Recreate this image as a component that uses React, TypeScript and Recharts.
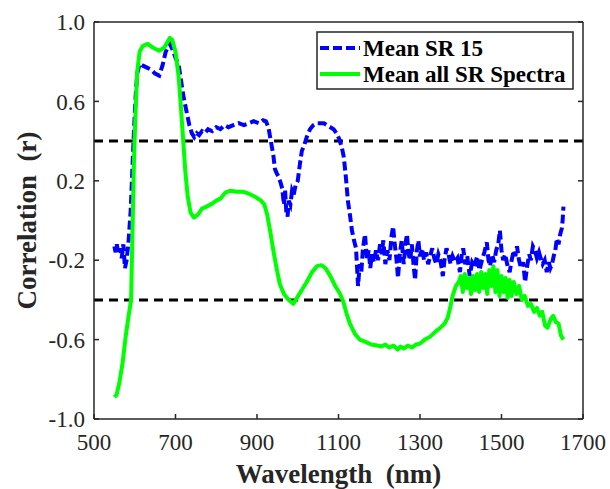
import React from 'react';
import { LineChart, Line, XAxis, YAxis, ReferenceLine } from 'recharts';

const xTicks = [500, 700, 900, 1100, 1300, 1500, 1700];
const yTicks = [-1, -0.6, -0.2, 0.2, 0.6, 1];
const thresholds = [0.4, -0.4];
const seriesNames = ['Mean SR 15', 'Mean all SR Spectra'];

const blueWl = [
  550, 553, 556, 560, 564, 568, 572, 576, 580, 585,
  590, 594, 598, 602, 606, 612, 620, 630, 640, 650,
  660, 668, 676, 686, 693, 700, 708, 714, 720, 727,
  734, 740, 746, 752, 758, 765, 772, 780, 790, 800,
  810, 820, 830, 842, 855, 868, 880, 892, 905, 915,
  922, 928, 934, 940, 944, 948, 953, 958, 962, 966,
  969, 972, 975, 978, 982, 986, 990, 995, 1000, 1005,
  1010, 1016, 1022, 1030, 1038, 1046, 1055, 1064, 1072, 1080,
  1088, 1095, 1102, 1108, 1113, 1118, 1123, 1128, 1133, 1138,
  1143, 1148, 1152, 1156, 1160, 1165, 1170, 1174, 1178, 1182,
  1187, 1192, 1197, 1202, 1206, 1210, 1215, 1220, 1225, 1230,
  1234, 1238, 1242, 1246, 1250, 1255, 1260, 1264, 1268, 1272,
  1276, 1280, 1284, 1288, 1292, 1296, 1300, 1305, 1310, 1315,
  1320, 1325, 1330, 1335, 1340, 1345, 1350, 1356, 1360, 1365,
  1370, 1375, 1380, 1386, 1392, 1398, 1402, 1406, 1411, 1416,
  1422, 1428, 1434, 1440, 1446, 1452, 1458, 1464, 1468, 1472,
  1477, 1482, 1487, 1492, 1496, 1500, 1504, 1509, 1514, 1520,
  1525, 1530, 1534, 1538, 1543, 1548, 1553, 1558, 1563, 1568,
  1572, 1577, 1582, 1587, 1592, 1596, 1601, 1606, 1611, 1616,
  1620, 1624, 1628, 1632, 1636, 1640, 1644, 1648, 1650, 1652,
];
const blueR = [
  -0.13, -0.16, -0.12, -0.17, -0.14, -0.19, -0.12, -0.24, -0.2, -0.1,
  0.05, 0.25, 0.45, 0.62, 0.74, 0.79, 0.78, 0.77, 0.76, 0.74,
  0.73, 0.78, 0.85, 0.89, 0.86, 0.82, 0.78, 0.7, 0.62, 0.55,
  0.48, 0.44, 0.42, 0.44, 0.43, 0.45, 0.44, 0.46, 0.45, 0.47,
  0.46, 0.48, 0.47, 0.48, 0.49, 0.48, 0.49, 0.5, 0.49, 0.505,
  0.5, 0.47, 0.4, 0.33, 0.26, 0.24, 0.22, 0.19, 0.16, 0.08,
  0.15, 0.04, 0.02, 0.1, 0.08, 0.15, 0.13, 0.18, 0.2, 0.28,
  0.35, 0.38, 0.42, 0.46, 0.48, 0.49, 0.49, 0.49, 0.48, 0.47,
  0.46, 0.44, 0.41, 0.37, 0.32, 0.22, 0.1, 0.03, -0.05, -0.1,
  -0.14, -0.33, -0.22, -0.26, -0.14, -0.07, -0.2, -0.15, -0.24, -0.17,
  -0.21, -0.15, -0.2, -0.12, -0.17, -0.1, -0.22, -0.15, -0.2, -0.08,
  -0.03, -0.12, -0.19, -0.29, -0.18, -0.1, -0.22, -0.12, -0.07, -0.17,
  -0.2, -0.12, -0.22, -0.3, -0.16, -0.1, -0.18, -0.14, -0.2, -0.16,
  -0.22, -0.18, -0.14, -0.19, -0.22, -0.17, -0.2, -0.28, -0.2, -0.14,
  -0.17, -0.22, -0.18, -0.21, -0.19, -0.26, -0.18, -0.14, -0.22, -0.18,
  -0.28, -0.21, -0.23, -0.18, -0.25, -0.2, -0.16, -0.11, -0.2, -0.23,
  -0.17, -0.21, -0.15, -0.12, -0.05, -0.15, -0.2, -0.17, -0.22, -0.26,
  -0.2, -0.15, -0.18, -0.13, -0.2, -0.24, -0.21, -0.31, -0.23, -0.17,
  -0.2, -0.13, -0.15, -0.19, -0.16, -0.19, -0.22, -0.2, -0.26, -0.21,
  -0.24, -0.22, -0.18, -0.15, -0.09, -0.12, -0.07, -0.04, 0.0, 0.07,
];

const greenWl = [
  550, 555, 562, 570, 578, 585, 591, 595, 598, 602,
  606, 612, 620, 632, 645, 660, 672, 686, 692, 700,
  708, 714, 719, 724, 730, 737, 745, 755, 765, 776,
  790, 800, 810, 822, 835, 850, 865, 880, 895, 910,
  918, 925, 932, 940, 948, 956, 966, 978, 989, 998,
  1010, 1022, 1035, 1047, 1058, 1068, 1080, 1092, 1104, 1112,
  1120, 1128, 1140, 1152, 1165, 1180, 1195, 1205, 1215, 1225,
  1235, 1245, 1252, 1260, 1270, 1280, 1290, 1300, 1312, 1325,
  1338, 1350, 1360, 1368, 1374, 1380, 1388, 1395, 1400, 1405,
  1410, 1415, 1420, 1425, 1430, 1435, 1440, 1445, 1450, 1455,
  1460, 1465, 1470, 1475, 1480, 1485, 1490, 1495, 1500, 1505,
  1510, 1515, 1520, 1525, 1530, 1537, 1543, 1550, 1557, 1565,
  1572, 1580, 1587, 1594, 1600, 1607, 1613, 1620, 1627, 1633,
  1640, 1646, 1652,
];
const greenR = [
  -0.89, -0.88, -0.82, -0.72, -0.58, -0.48, -0.4, 0.0, 0.3, 0.55,
  0.75, 0.85, 0.88, 0.89, 0.87, 0.855, 0.87, 0.92, 0.91, 0.85,
  0.72, 0.55, 0.4, 0.25, 0.12, 0.04, 0.015, 0.03, 0.06, 0.07,
  0.085, 0.1, 0.11, 0.14, 0.15, 0.145, 0.145, 0.135, 0.12, 0.1,
  0.08, 0.03, -0.05, -0.15, -0.24, -0.32, -0.37, -0.4, -0.42, -0.39,
  -0.35, -0.31, -0.26, -0.23, -0.225, -0.24, -0.28, -0.33, -0.37, -0.41,
  -0.47, -0.52, -0.57, -0.6, -0.61, -0.625, -0.63, -0.635, -0.625, -0.64,
  -0.63, -0.65, -0.635, -0.645, -0.63, -0.64, -0.625, -0.62, -0.6, -0.585,
  -0.56, -0.54, -0.52, -0.49, -0.44, -0.38, -0.33, -0.31, -0.28, -0.36,
  -0.27, -0.34, -0.29, -0.37, -0.28, -0.35, -0.27, -0.36, -0.26, -0.34,
  -0.27, -0.37, -0.25, -0.33, -0.23, -0.36, -0.25, -0.38, -0.28, -0.36,
  -0.29, -0.39, -0.3, -0.38, -0.31, -0.37, -0.33, -0.4, -0.38, -0.43,
  -0.42, -0.46, -0.44, -0.48, -0.46, -0.53, -0.54, -0.5, -0.48, -0.51,
  -0.52, -0.58, -0.6,
];

const blueData = blueWl.map((wl, i) => ({ wl, r: blueR[i] }));
const greenData = greenWl.map((wl, i) => ({ wl, r: greenR[i] }));

const FONT = "'Liberation Serif', 'DejaVu Serif', 'Noto Serif', serif";
const AX = '#262626';
const BLUE = '#0000ff';
const GREEN = '#00ff00';

const fmt = (v: number) => v.toFixed(1);
const blank = () => '';

export default function App() {
  return (
    <div style={{ position: 'absolute', left: 0, top: 0, width: 610, height: 489, background: '#fff', fontFamily: FONT }}>
      <LineChart width={610} height={489} margin={{ top: 0, right: 0, bottom: 0, left: 0 }} style={{ fontFamily: FONT }}>
        <XAxis
          dataKey="wl"
          type="number"
          domain={[500, 1700]}
          ticks={xTicks}
          allowDataOverflow
          height={70}
          tickSize={-5}
          tickMargin={20}
          stroke={AX}
          strokeWidth={1.5}
          tick={{ fill: AX, fontSize: 23, fontFamily: FONT, style: { fontFamily: FONT } }}
          label={{
            value: 'Wavelength\u00a0\u00a0(nm)',
            position: 'insideBottom',
            offset: 6,
            style: { fontSize: 27, fontWeight: 'bold', fill: AX, fontFamily: FONT },
          }}
        />
        <XAxis
          xAxisId="top"
          orientation="top"
          type="number"
          domain={[500, 1700]}
          ticks={xTicks}
          allowDataOverflow
          height={22}
          tickSize={-5}
          stroke={AX}
          strokeWidth={1.5}
          tickFormatter={blank}
        />
        <YAxis
          type="number"
          domain={[-1, 1]}
          ticks={yTicks}
          allowDataOverflow
          width={94}
          tickSize={-5}
          tickMargin={14}
          stroke={AX}
          strokeWidth={1.5}
          tickFormatter={fmt}
          tick={{ fill: AX, fontSize: 23, fontFamily: FONT, style: { fontFamily: FONT } }}
          label={{
            value: 'Correlation\u00a0\u00a0(r)',
            angle: -90,
            position: 'insideLeft',
            offset: 26,
            style: { textAnchor: 'middle', fontSize: 27, fontWeight: 'bold', fill: AX, fontFamily: FONT },
          }}
        />
        <YAxis
          yAxisId="right"
          orientation="right"
          type="number"
          domain={[-1, 1]}
          ticks={yTicks}
          allowDataOverflow
          width={27}
          tickSize={-5}
          stroke={AX}
          strokeWidth={1.5}
          tickFormatter={blank}
        />
        {thresholds.map((t) => (
          <ReferenceLine key={t} y={t} stroke="#000" strokeWidth={3} strokeDasharray="9 6" />
        ))}
        <Line
          data={blueData}
          dataKey="r"
          name={seriesNames[0]}
          type="linear"
          stroke={BLUE}
          strokeWidth={4}
          strokeDasharray="9 4"
          dot={false}
          isAnimationActive={false}
        />
        <Line
          data={greenData}
          dataKey="r"
          name={seriesNames[1]}
          type="linear"
          stroke={GREEN}
          strokeWidth={4}
          strokeLinejoin="round"
          dot={false}
          isAnimationActive={false}
        />
      </LineChart>
      <svg
        width={610}
        height={489}
        style={{ position: 'absolute', left: 0, top: 0, pointerEvents: 'none', fontFamily: FONT }}
      >
        <rect x={317} y={32} width={256} height={57} fill="#fff" stroke={AX} strokeWidth={1.5} />
        <line x1={320} x2={360} y1={48} y2={48} stroke={BLUE} strokeWidth={4} strokeDasharray="9 4" />
        <line x1={320} x2={360} y1={74} y2={74} stroke={GREEN} strokeWidth={4} />
        <text x={363} y={56} fontSize={23} fontWeight="bold" style={{ fontFamily: FONT }} fill="#000">
          {seriesNames[0]}
        </text>
        <text x={363} y={82} fontSize={23} fontWeight="bold" style={{ fontFamily: FONT }} fill="#000">
          {seriesNames[1]}
        </text>
      </svg>
    </div>
  );
}
